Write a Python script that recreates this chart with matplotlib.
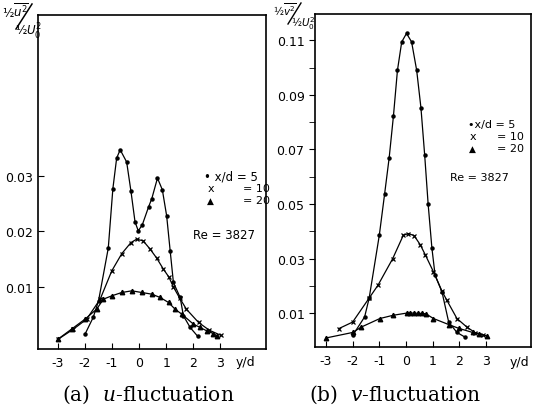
import matplotlib
matplotlib.use("Agg")
import matplotlib.pyplot as plt
from matplotlib.lines import Line2D
import numpy as np

# ---- data ----
# (a) u-fluctuation
u5_x = [-2.0, -1.7, -1.5, -1.14, -0.97, -0.83, -0.70, -0.46, -0.30, -0.15, -0.03, 0.12, 0.35, 0.47, 0.68, 0.86, 1.02, 1.15, 1.27, 1.52, 1.64, 1.89, 2.17]
u5_y = [0.0015, 0.0045, 0.0075, 0.017, 0.0277, 0.0332, 0.0347, 0.0325, 0.0272, 0.0217, 0.0201, 0.0212, 0.0244, 0.0259, 0.0296, 0.0275, 0.0228, 0.0165, 0.0108, 0.0081, 0.0048, 0.0027, 0.0011]
u10_x = [-2.99, -2.43, -1.94, -1.44, -1.01, -0.64, -0.30, -0.09, 0.15, 0.41, 0.65, 0.9, 1.1, 1.27, 1.5, 1.75, 2.2, 2.6, 3.02]
u10_y = [0.0006, 0.0024, 0.0042, 0.0078, 0.0129, 0.0160, 0.0180, 0.0186, 0.0183, 0.0168, 0.0152, 0.0132, 0.0118, 0.0100, 0.0080, 0.0060, 0.0036, 0.0022, 0.0013]
u20_x = [-3.0, -2.5, -2.0, -1.57, -1.32, -1.01, -0.64, -0.27, 0.1, 0.47, 0.78, 1.09, 1.33, 1.58, 2.01, 2.26, 2.5, 2.75, 2.88]
u20_y = [0.0006, 0.0024, 0.0042, 0.0060, 0.0078, 0.0084, 0.0090, 0.0093, 0.0090, 0.0087, 0.0081, 0.0072, 0.0060, 0.0051, 0.0033, 0.0027, 0.0021, 0.0016, 0.0012]

# (b) v-fluctuation
v5_x = [-2.0, -1.55, -1.38, -1.0, -0.80, -0.63, -0.47, -0.32, -0.16, 0.02, 0.21, 0.40, 0.56, 0.70, 0.83, 0.97, 1.09, 1.35, 1.6, 1.91, 2.23]
v5_y = [0.0019, 0.0087, 0.0156, 0.0386, 0.0538, 0.067, 0.0823, 0.099, 0.1094, 0.1125, 0.1094, 0.099, 0.0853, 0.068, 0.050, 0.034, 0.024, 0.0178, 0.0068, 0.003, 0.0012]
v10_x = [-2.52, -2.0, -1.38, -1.05, -0.5, -0.1, 0.09, 0.3, 0.53, 0.72, 1.03, 1.35, 1.53, 1.91, 2.29, 2.6, 2.87]
v10_y = [0.0044, 0.0068, 0.0156, 0.0203, 0.030, 0.0386, 0.0392, 0.0385, 0.0352, 0.0315, 0.0252, 0.0181, 0.0148, 0.0081, 0.0049, 0.0029, 0.0022]
v20_x = [-2.99, -2.0, -1.67, -0.98, -0.48, 0.03, 0.15, 0.3, 0.45, 0.6, 0.75, 1.03, 1.6, 1.98, 2.5, 2.75, 3.04]
v20_y = [0.001, 0.003, 0.005, 0.0081, 0.0093, 0.0101, 0.0101, 0.0101, 0.0100, 0.0100, 0.0098, 0.0081, 0.0059, 0.0045, 0.003, 0.0025, 0.0017]

xticks = [-3, -2, -1, 0, 1, 2, 3]
xtick_labels = ["-3", "-2", "-1", "0", "1", "2", "3"]
u_yticks = [0.01, 0.02, 0.03]
v_yticks = [0.01, 0.03, 0.05, 0.07, 0.09, 0.11]
v_yminor = [0.02, 0.04, 0.06, 0.08, 0.10]

W, H = 533, 406


def fx(px):
    return px / W


def fy(py):
    return 1 - py / H


fig = plt.figure(figsize=(5.33, 4.06), dpi=100)
axa = fig.add_axes([0.0713, 0.138, 0.428, 0.823])
axb = fig.add_axes([0.591, 0.143, 0.405, 0.820])


def draw(ax, s5, s10, s20):
    ax.plot(s5[0], s5[1], "-", color="k", lw=0.9, marker="o", ms=2.2)
    ax.plot(s10[0], s10[1], "-", color="k", lw=0.9, marker="x", ms=3.5, mew=0.9)
    ax.plot(s20[0], s20[1], "-", color="k", lw=0.9, marker="^", ms=3.2)
    ax.set_xticks(xticks)
    ax.set_xticklabels(xtick_labels)
    ax.tick_params(axis="x", direction="in", length=4, labelsize=9, pad=5)
    ax.tick_params(axis="y", direction="in", length=4, labelsize=9)
    for s in ax.spines.values():
        s.set_linewidth(1.2)


draw(axa, (u5_x, u5_y), (u10_x, u10_y), (u20_x, u20_y))
axa.set_xlim(-3.74, 4.70)
axa.set_ylim(-0.00117, 0.059)
axa.set_yticks(u_yticks)
axa.set_yticklabels(["0.01", "0.02", "0.03"])

draw(axb, (v5_x, v5_y), (v10_x, v10_y), (v20_x, v20_y))
axb.set_xlim(-3.41, 4.68)
axb.set_ylim(-0.0023, 0.1196)
axb.set_yticks(v_yticks)
axb.set_yticklabels(["0.01", "0.03", "0.05", "0.07", "0.09", "0.11"])
axb.set_yticks(v_yminor, minor=True)
axb.tick_params(axis="y", which="both", direction="out", length=4)

# y/d labels at the end of x axis
fig.text(fx(236), fy(363), "y/d", fontsize=9, ha="left", va="center")
fig.text(fx(510), fy(363), "y/d", fontsize=9, ha="left", va="center")

# y axis labels: "1/2 u'^2" / "1/2 U0^2" with a slanted bar between
fig.text(fx(2), fy(3), "\u00bd$\\overline{u^2}$", fontsize=8.5,
         math_fontfamily="dejavusans", ha="left", va="top")
fig.text(fx(15), fy(22), "\u00bd$U_0^2$", fontsize=8.5,
         math_fontfamily="dejavusans", ha="left", va="top")
fig.add_artist(Line2D([fx(16), fx(32)], [fy(30), fy(5)], color="k", lw=1.1))

fig.text(fx(273), fy(1), "\u00bd$\\overline{v^2}$", fontsize=7.5,
         math_fontfamily="dejavusans", ha="left", va="top")
fig.text(fx(291), fy(15), "\u00bd$U_0^2$", fontsize=7.5,
         math_fontfamily="dejavusans", ha="left", va="top")
fig.add_artist(Line2D([fx(288), fx(301)], [fy(25), fy(4)], color="k", lw=1.0))

# legend notes, panel (a)
fs = 8
fig.text(fx(204), fy(177), "\u2022 x/d = 5", fontsize=8.5, va="center")
fig.text(fx(208), fy(189), "x", fontsize=fs, va="center")
fig.text(fx(243), fy(189), "= 10", fontsize=fs, va="center")
fig.text(fx(207), fy(201), "\u25b2", fontsize=6.5, va="center")
fig.text(fx(243), fy(201), "= 20", fontsize=fs, va="center")
fig.text(fx(193), fy(236), "Re = 3827", fontsize=8.5, va="center")

# legend notes, panel (b)
fig.text(fx(468), fy(125), "\u2022x/d = 5", fontsize=8, va="center")
fig.text(fx(470), fy(137), "x", fontsize=8, va="center")
fig.text(fx(497), fy(137), "= 10", fontsize=8, va="center")
fig.text(fx(469), fy(149), "\u25b2", fontsize=6.5, va="center")
fig.text(fx(497), fy(149), "= 20", fontsize=8, va="center")
fig.text(fx(450), fy(178), "Re = 3827", fontsize=8, va="center")

# captions
fig.text(fx(148), fy(395), r"(a)  $u$-fluctuation", fontsize=14.5,
         family="DejaVu Serif", math_fontfamily="dejavuserif", ha="center", va="center")
fig.text(fx(395), fy(395), r"(b)  $v$-fluctuation", fontsize=14.5,
         family="DejaVu Serif", math_fontfamily="dejavuserif", ha="center", va="center")

fig.savefig("out.png", dpi=100)
